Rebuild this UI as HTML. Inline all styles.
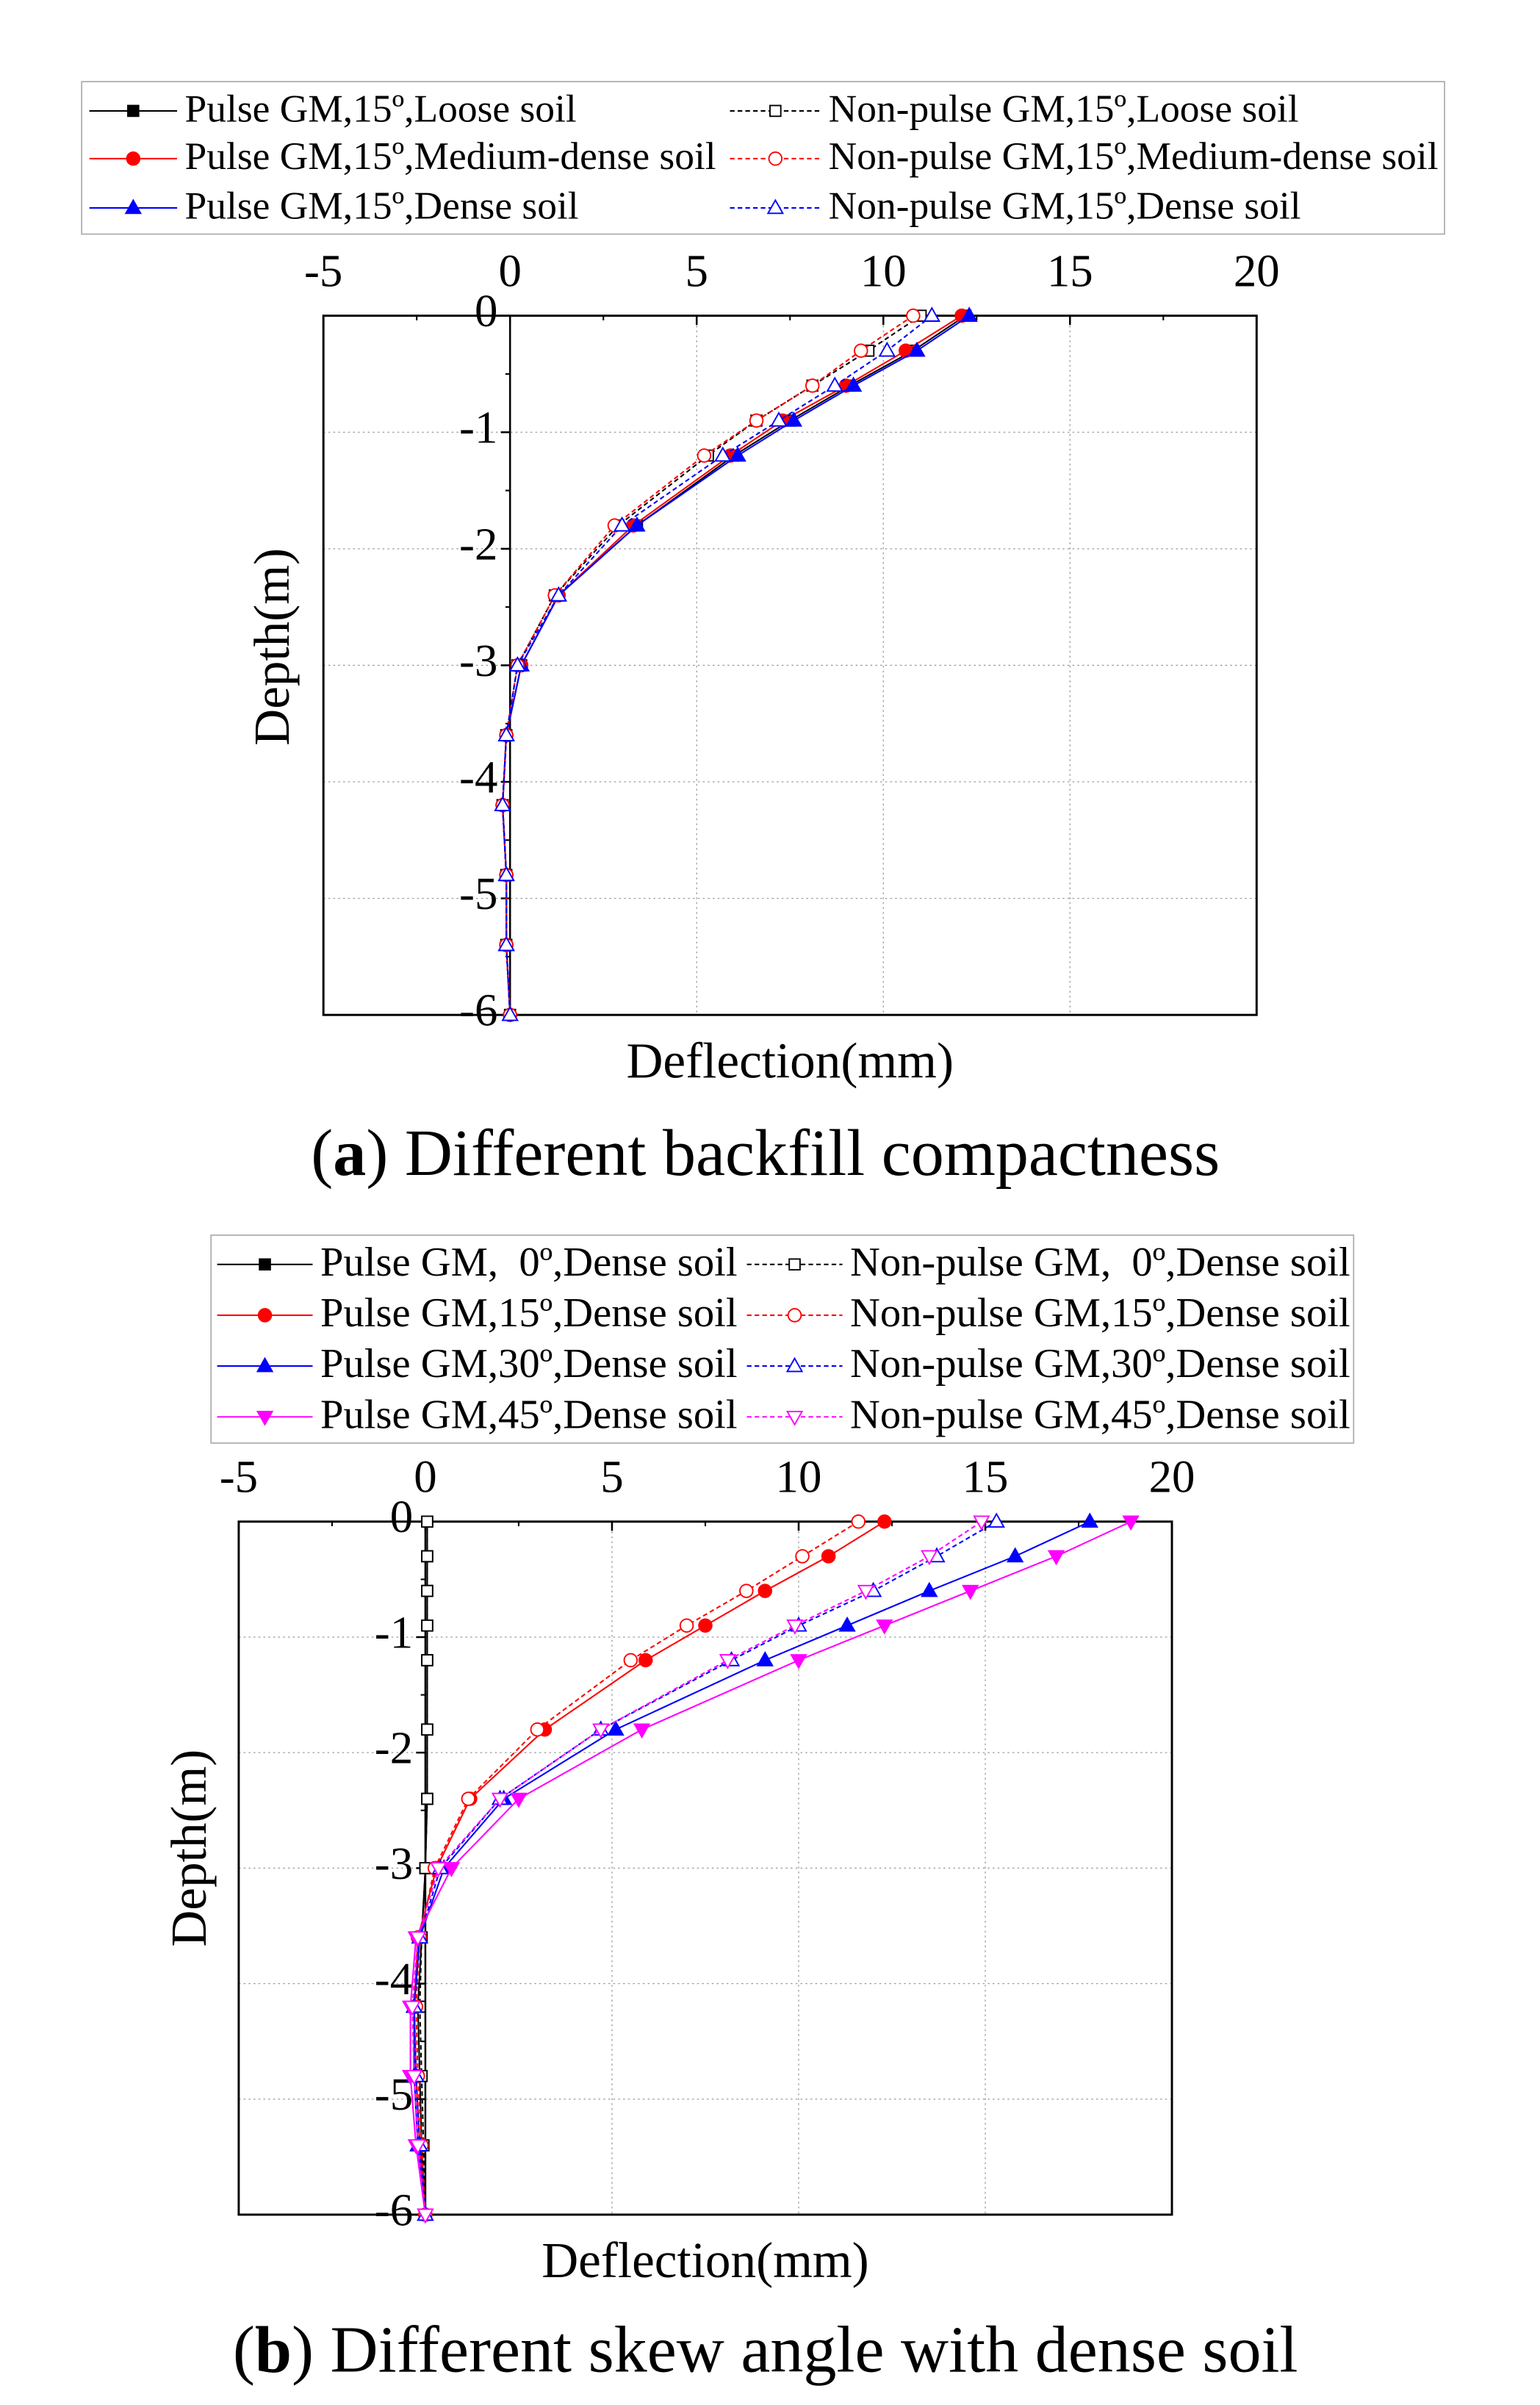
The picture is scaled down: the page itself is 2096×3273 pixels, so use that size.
<!DOCTYPE html>
<html><head><meta charset="utf-8"><style>
html,body{margin:0;padding:0;background:#fff}
svg{display:block}
text{font-family:"Liberation Serif",serif;fill:#000;white-space:pre}
</style></head><body>
<svg id="svg" width="2096" height="3273" viewBox="0 0 1000 1561.6" xmlns="http://www.w3.org/2000/svg"></svg>
<script>
const depths=[0,-0.3,-0.6,-0.9,-1.2,-1.8,-2.4,-3,-3.6,-4.2,-4.8,-5.4,-6];
const xTicks=[-5,0,5,10,15,20];
const yTicks=[0,-1,-2,-3,-4,-5,-6];
// chart a
const aPulseLoose=[12.2,10.8,9.1,7.5,6.0,3.4,1.3,0.3,-0.1,-0.2,-0.1,-0.1,0];
const aPulseMed=[12.1,10.6,9.0,7.3,5.9,3.3,1.3,0.3,-0.1,-0.2,-0.1,-0.1,0];
const aPulseDense=[12.3,10.9,9.2,7.6,6.1,3.4,1.3,0.3,-0.1,-0.2,-0.1,-0.1,0];
const aNonLoose=[11.0,9.6,8.1,6.6,5.3,2.9,1.2,0.2,-0.1,-0.2,-0.1,-0.1,0];
const aNonMed=[10.8,9.4,8.1,6.6,5.2,2.8,1.2,0.2,-0.1,-0.2,-0.1,-0.1,0];
const aNonDense=[11.3,10.1,8.7,7.2,5.7,3.0,1.3,0.2,-0.1,-0.2,-0.1,-0.1,0];
// chart b
const bPulse0=[0.05,0.05,0.05,0.05,0.05,0.05,0.05,0,-0.1,-0.2,-0.15,-0.1,0];
const bPulse15=[12.3,10.8,9.1,7.5,5.9,3.2,1.2,0.3,-0.2,-0.3,-0.25,-0.15,0];
const bPulse30=[17.8,15.8,13.5,11.3,9.1,5.1,2.1,0.5,-0.15,-0.3,-0.3,-0.2,0];
const bPulse45=[18.9,16.9,14.6,12.3,10.0,5.8,2.5,0.7,-0.25,-0.4,-0.4,-0.25,0];
const bNon0=[0.05,0.05,0.05,0.05,0.05,0.05,0.05,0,-0.1,-0.15,-0.1,-0.05,0];
const bNon15=[11.6,10.1,8.6,7.0,5.5,3.0,1.15,0.25,-0.15,-0.25,-0.2,-0.1,0];
const bNon30=[15.3,13.7,12.0,10.0,8.2,4.7,2.0,0.4,-0.15,-0.3,-0.25,-0.15,0];
const bNon45=[14.9,13.5,11.8,9.9,8.1,4.7,2.0,0.35,-0.2,-0.35,-0.3,-0.2,0];

const NS="http://www.w3.org/2000/svg";
const svg=document.getElementById('svg');
function el(t,a,p){const e=document.createElementNS(NS,t);for(const k in a)e.setAttribute(k,a[k]);(p||svg).appendChild(e);return e;}
function txt(x,y,s,size,anchor,p){const e=el('text',{x:x,y:y,'font-size':size,'text-anchor':anchor||'start','dominant-baseline':'middle'},p);e.textContent=s;return e;}
function marker(g,type,x,y,color,filled){
  const f=filled?color:'#fff';let m;
  if(type==='sq')m=el('rect',{x:x-3.5,y:y-3.5,width:7,height:7,fill:f,stroke:color,'stroke-width':0.9},g);
  else if(type==='ci')m=el('circle',{cx:x,cy:y,r:4.2,fill:f,stroke:color,'stroke-width':0.9},g);
  else if(type==='tu')m=el('polygon',{points:`${x},${y-5} ${x-4.8},${y+3.5} ${x+4.8},${y+3.5}`,fill:f,stroke:color,'stroke-width':0.9},g);
  else m=el('polygon',{points:`${x},${y+5} ${x-4.8},${y-3.5} ${x+4.8},${y-3.5}`,fill:f,stroke:color,'stroke-width':0.9},g);
  
  
}
function chart(name,L,R,T,B,series){
  const g=el('g',{});
  
  
  const xs=v=>L+(v-xTicks[0])/(xTicks[xTicks.length-1]-xTicks[0])*(R-L);
  const ys=v=>T+(0-v)/6*(B-T);
  xTicks.forEach(v=>{if(v>xTicks[0]&&v<20&&v!==0){const l=el('line',{x1:xs(v),x2:xs(v),y1:T,y2:B,stroke:'#999','stroke-width':0.6,'stroke-dasharray':'1.2,2'},g);}});
  yTicks.forEach(v=>{if(v<0&&v>-6){const l=el('line',{x1:L,x2:R,y1:ys(v),y2:ys(v),stroke:'#999','stroke-width':0.6,'stroke-dasharray':'1.2,2'},g);}});
  const fr=el('rect',{x:L,y:T,width:R-L,height:B-T,fill:'none',stroke:'#000','stroke-width':1.4},g);
  
  const ya=el('line',{x1:xs(0),x2:xs(0),y1:T,y2:B,stroke:'#000','stroke-width':1.2},g);
  
  xTicks.forEach(v=>{el('line',{x1:xs(v),x2:xs(v),y1:T,y2:T+6,stroke:'#000','stroke-width':1.2},g);
    const t=txt(xs(v),T-26,String(v),30,'middle',g);});
  for(let v=-2.5;v<20;v+=5)el('line',{x1:xs(v),x2:xs(v),y1:T,y2:T+3,stroke:'#000','stroke-width':1},g);
  yTicks.forEach(v=>{el('line',{x1:xs(0)-6,x2:xs(0),y1:ys(v),y2:ys(v),stroke:'#000','stroke-width':1.2},g);
    const t=txt(xs(0)-8,ys(v),String(v),30,'end',g);});
  for(let v=-0.5;v>-6;v-=1)el('line',{x1:xs(0)-3,x2:xs(0),y1:ys(v),y2:ys(v),stroke:'#000','stroke-width':1},g);
  series.forEach(s=>{
    const sg=el('g',{},g);
    
    
    const pts=s.vals.map((v,i)=>xs(v)+','+ys(depths[i])).join(' ');
    el('polyline',{points:pts,fill:'none',stroke:s.color,'stroke-width':1,'stroke-dasharray':s.filled?'none':'3,2'},sg);
    s.vals.forEach((v,i)=>marker(sg,s.m,xs(v),ys(depths[i]),s.color,s.filled));
  });
}
function legend(name,x,y,w,h,rows,fs){
  const g=el('g',{});
  
  
  el('rect',{x:x,y:y,width:w,height:h,fill:'#fff',stroke:'#aaa','stroke-width':0.8},g);
  rows.forEach(r=>{
    const eg=el('g',{},g);
    
    
    el('line',{x1:r.x1,x2:r.x2,y1:r.y,y2:r.y,stroke:r.color,'stroke-width':1,'stroke-dasharray':r.filled?'none':'3,2'},eg);
    marker(eg,r.m,(r.x1+r.x2)/2,r.y,r.color,r.filled);
    txt(r.x2+5,r.y+1,r.label,fs,'start',eg);
  });
}
chart('chart-a-backfill',210,816,205,659,[
 {name:'series-pulse-loose',vals:aPulseLoose,color:'#000',m:'sq',filled:true},
 {name:'series-pulse-medium',vals:aPulseMed,color:'#f00',m:'ci',filled:true},
 {name:'series-pulse-dense',vals:aPulseDense,color:'#00f',m:'tu',filled:true},
 {name:'series-nonpulse-loose',vals:aNonLoose,color:'#000',m:'sq',filled:false},
 {name:'series-nonpulse-medium',vals:aNonMed,color:'#f00',m:'ci',filled:false},
 {name:'series-nonpulse-dense',vals:aNonDense,color:'#00f',m:'tu',filled:false}]);
legend('legend-a',53,53,885,99,[
 {x1:58,x2:115,y:72,color:'#000',m:'sq',filled:true,label:'Pulse GM,15º,Loose soil'},
 {x1:58,x2:115,y:103,color:'#f00',m:'ci',filled:true,label:'Pulse GM,15º,Medium-dense soil'},
 {x1:58,x2:115,y:135,color:'#00f',m:'tu',filled:true,label:'Pulse GM,15º,Dense soil'},
 {x1:474,x2:533,y:72,color:'#000',m:'sq',filled:false,label:'Non-pulse GM,15º,Loose soil'},
 {x1:474,x2:533,y:103,color:'#f00',m:'ci',filled:false,label:'Non-pulse GM,15º,Medium-dense soil'},
 {x1:474,x2:533,y:135,color:'#00f',m:'tu',filled:false,label:'Non-pulse GM,15º,Dense soil'}],25.5);
let t;
t=txt(513,692,'Deflection(mm)',33,'middle');
t=el('text',{x:0,y:0,'font-size':33,'text-anchor':'middle','dominant-baseline':'middle',transform:'translate(180,420) rotate(-90)'});t.textContent='Depth(m)';
t=el('text',{x:497,y:753,'font-size':43,'text-anchor':'middle','dominant-baseline':'middle'});t.innerHTML='(<tspan font-weight="bold">a</tspan>) Different backfill compactness';
chart('chart-b-skew',155,761,988,1438,[
 {name:'series-pulse-0',vals:bPulse0,color:'#000',m:'sq',filled:true},
 {name:'series-nonpulse-0',vals:bNon0,color:'#000',m:'sq',filled:false},
 {name:'series-pulse-15',vals:bPulse15,color:'#f00',m:'ci',filled:true},
 {name:'series-nonpulse-15',vals:bNon15,color:'#f00',m:'ci',filled:false},
 {name:'series-pulse-30',vals:bPulse30,color:'#00f',m:'tu',filled:true},
 {name:'series-nonpulse-30',vals:bNon30,color:'#00f',m:'tu',filled:false},
 {name:'series-pulse-45',vals:bPulse45,color:'#f0f',m:'td',filled:true},
 {name:'series-nonpulse-45',vals:bNon45,color:'#f0f',m:'td',filled:false}]);
legend('legend-b',137,802,742,135,[
 {x1:141,x2:203,y:821,color:'#000',m:'sq',filled:true,label:'Pulse GM,  0º,Dense soil'},
 {x1:141,x2:203,y:854,color:'#f00',m:'ci',filled:true,label:'Pulse GM,15º,Dense soil'},
 {x1:141,x2:203,y:887,color:'#00f',m:'tu',filled:true,label:'Pulse GM,30º,Dense soil'},
 {x1:141,x2:203,y:920,color:'#f0f',m:'td',filled:true,label:'Pulse GM,45º,Dense soil'},
 {x1:485,x2:547,y:821,color:'#000',m:'sq',filled:false,label:'Non-pulse GM,  0º,Dense soil'},
 {x1:485,x2:547,y:854,color:'#f00',m:'ci',filled:false,label:'Non-pulse GM,15º,Dense soil'},
 {x1:485,x2:547,y:887,color:'#00f',m:'tu',filled:false,label:'Non-pulse GM,30º,Dense soil'},
 {x1:485,x2:547,y:920,color:'#f0f',m:'td',filled:false,label:'Non-pulse GM,45º,Dense soil'}],27);
t=txt(458,1471,'Deflection(mm)',33,'middle');
t=el('text',{x:0,y:0,'font-size':33,'text-anchor':'middle','dominant-baseline':'middle',transform:'translate(126,1200) rotate(-90)'});t.textContent='Depth(m)';
t=el('text',{x:497,y:1530,'font-size':43,'text-anchor':'middle','dominant-baseline':'middle'});t.innerHTML='(<tspan font-weight="bold">b</tspan>) Different skew angle with dense soil';
</script>
</body></html>
